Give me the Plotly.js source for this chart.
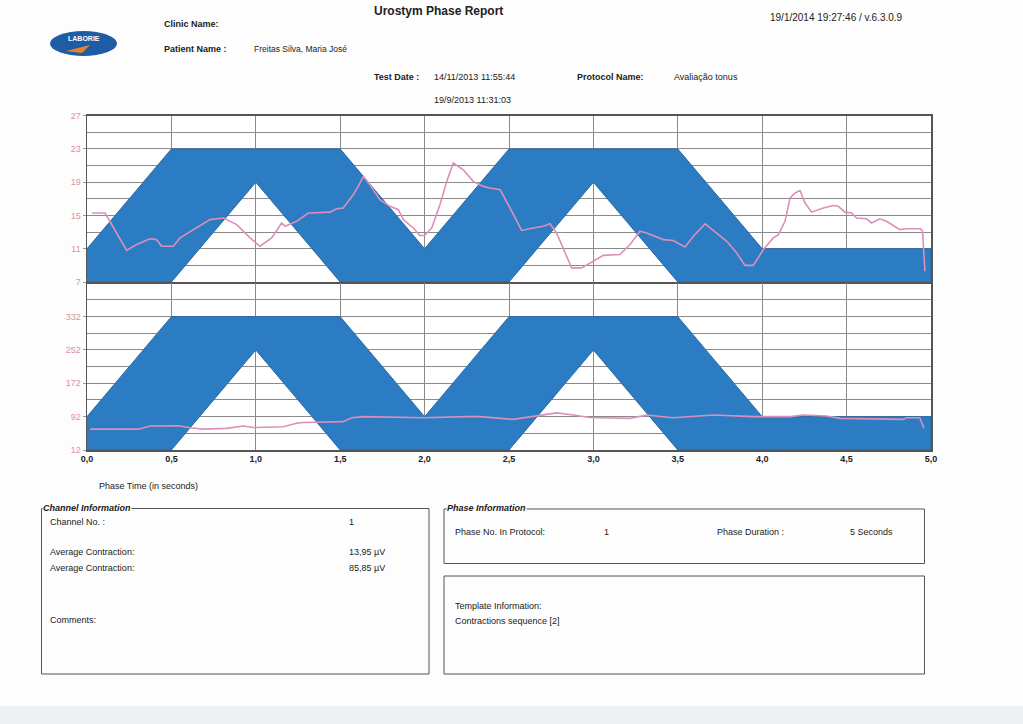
<!DOCTYPE html>
<html>
<head>
<meta charset="utf-8">
<script src="https://cdn.plot.ly/plotly-3.0.1.min.js"></script>
<style>html,body{margin:0;padding:0;background:#fdfdfd;}#chart{width:1023px;height:724px;}</style>
</head>
<body>
<div id="chart"></div>
<script>
// Template (target band) breakpoints
const templateT = [0, 0.5, 1.0, 1.5, 2.0, 2.5, 3.0, 3.5, 4.0, 5.0];
const ch1Upper = [11, 23, 23, 23, 11, 23, 23, 23, 11, 11];
const ch1Lower = [7, 7, 19, 7, 7, 7, 19, 7, 7, 7];
const ch2Upper = [92, 332, 332, 332, 92, 332, 332, 332, 92, 92];
const ch2Lower = [12, 12, 252, 12, 12, 12, 252, 12, 12, 12];

// Axis tick labels
const ch1Ticks = [7, 11, 15, 19, 23, 27];
const ch2Ticks = [12, 92, 172, 252, 332];
const xTicks = [0, 0.5, 1.0, 1.5, 2.0, 2.5, 3.0, 3.5, 4.0, 4.5, 5.0];

// Channel 1 signal (µV)
const ch1T = [0.03,0.107,0.235,0.294,0.373,0.412,0.442,0.511,0.551,0.63,0.729,0.808,0.887,0.966,1.025,1.094,1.153,1.173,1.242,1.311,1.44,1.479,1.518,1.577,1.607,1.637,1.676,1.735,1.795,1.844,1.874,1.933,1.972,2.0,2.042,2.091,2.131,2.17,2.229,2.288,2.347,2.388,2.447,2.506,2.575,2.644,2.703,2.743,2.782,2.871,2.93,2.999,3.058,3.157,3.217,3.276,3.315,3.414,3.473,3.543,3.592,3.662,3.711,3.79,3.849,3.898,3.947,4.007,4.066,4.096,4.135,4.165,4.195,4.224,4.254,4.293,4.362,4.421,4.451,4.49,4.53,4.559,4.618,4.648,4.697,4.737,4.776,4.816,4.855,4.938,4.95,4.964];
const ch1V = [15.3,15.3,10.8,11.5,12.2,12.1,11.3,11.3,12.3,13.3,14.5,14.7,13.9,12.3,11.3,12.3,14.1,13.7,14.3,15.3,15.4,15.8,15.9,17.5,18.5,19.7,18.7,16.9,16.1,15.7,14.5,13.5,12.6,12.6,13.5,16.3,19.1,21.3,20.5,19.1,18.5,18.3,18.1,15.9,13.2,13.5,13.7,14.0,12.9,8.7,8.7,9.5,10.2,10.3,11.5,13.1,12.9,12.1,12.0,11.2,12.5,14.0,13.2,11.9,10.5,9.0,9.0,10.9,12.3,12.7,14.3,17.1,17.7,18.0,16.5,15.4,15.9,16.2,16.1,15.4,15.3,14.7,14.6,14.1,14.6,14.3,13.8,13.3,13.4,13.4,13.1,8.3];

// Channel 2 signal (µV)
const ch2T = [0.018,0.304,0.373,0.54,0.61,0.689,0.827,0.926,0.985,1.163,1.242,1.281,1.518,1.568,1.637,1.992,2.249,2.328,2.525,2.644,2.782,2.881,2.98,3.217,3.315,3.473,3.711,3.947,4.165,4.244,4.382,4.461,4.836,4.855,4.934,4.958];
const ch2V = [62,62,69.5,70,65.5,62,64,69.5,66,67.8,76,78,80,89.5,92,89.5,92,92,85.5,93.5,101,96,90,88,96,89.5,96,92,92,96,93.5,88,85.5,89.5,89.5,64];

const W = 1023, H = 724;
const px = x => x / W;
const py = y => 1 - y / H;

const BLUE = '#2b7cc3';
const PINK = '#dc8fb8';

function band(upper, lower, xa, ya) {
  return {
    x: templateT.concat(templateT.slice().reverse()),
    y: upper.concat(lower.slice().reverse()),
    xaxis: xa, yaxis: ya, type: 'scatter', mode: 'lines',
    fill: 'toself', fillcolor: BLUE, line: {color: '#2a6aa3', width: 1},
    hoverinfo: 'skip', showlegend: false
  };
}

const traces = [
  band(ch1Upper, ch1Lower, 'x', 'y'),
  {x: ch1T, y: ch1V, xaxis: 'x', yaxis: 'y', type: 'scatter', mode: 'lines',
   line: {color: PINK, width: 1.6}, showlegend: false},
  band(ch2Upper, ch2Lower, 'x2', 'y2'),
  {x: ch2T, y: ch2V, xaxis: 'x2', yaxis: 'y2', type: 'scatter', mode: 'lines',
   line: {color: PINK, width: 1.6}, showlegend: false}
];

const FONT = 'Liberation Sans, Arial, sans-serif';
const xdom = [px(87), px(931)];

function xax(anchor, showLabels) {
  return {
    domain: xdom, anchor: anchor, range: [0, 5], tickvals: xTicks,
    tickformat: '.1f', showticklabels: showLabels,
    tickfont: {family: FONT, size: 9, color: '#222', weight: 'bold'},
    showgrid: true, gridcolor: '#8a8a8a', gridwidth: 1,
    showline: true, linecolor: '#555', linewidth: 1.5, mirror: true,
    zeroline: false, ticks: '', fixedrange: true
  };
}
function yax(anchor, dom, range, vals, minorStep) {
  return {
    domain: dom, anchor: anchor, range: range, tickmode: 'array', tickvals: vals,
    tickfont: {family: FONT, size: 9, color: '#e0909e'},
    ticks: 'outside', ticklen: 3, tickcolor: '#999',
    showgrid: true, gridcolor: '#8a8a8a', gridwidth: 1,
    minor: {tickmode: 'linear', tick0: range[0], dtick: minorStep, showgrid: true, gridcolor: '#8a8a8a', gridwidth: 1},
    showline: true, linecolor: '#555', linewidth: 1.5, mirror: true,
    zeroline: false, fixedrange: true
  };
}

function txt(t, x, y, opts) {
  return Object.assign({
    text: t, xref: 'paper', yref: 'paper', x: px(x), y: py(y),
    xanchor: 'left', yanchor: 'middle', showarrow: false,
    font: {family: FONT, size: 9, color: '#222'}
  }, opts || {});
}
const bold = (t, x, y, size) => txt('<b>' + t + '</b>', x, y, {font: {family: FONT, size: size || 9, color: '#222'}});

const annotations = [
  txt('<b>Urostym Phase Report</b>', 438, 11, {xanchor: 'center', font: {family: FONT, size: 12, color: '#222'}}),
  txt('19/1/2014 19:27:46 / v.6.3.0.9', 768, 18, {font: {family: FONT, size: 10, color: '#222'}}),
  bold('Clinic Name:', 162, 24),
  bold('Patient Name :', 162, 49),
  txt('Freitas Silva, Maria José', 252, 49, {font: {family: FONT, size: 8.5, color: '#222'}}),
  bold('Test Date :', 372, 77),
  txt('14/11/2013 11:55:44', 432, 77),
  bold('Protocol Name:', 575, 77),
  txt('Avaliação tonus', 672, 77),
  txt('19/9/2013 11:31:03', 432, 100),
  txt('<b>LABORIE</b>', 84, 38, {xanchor: 'center', font: {family: FONT, size: 7, color: '#ffffff'}}),
  txt('Phase Time (in seconds)', 148, 486, {xanchor: 'center'}),
  txt('<b><i>Channel Information</i></b>', 42, 508, {bgcolor: '#fdfdfd', borderpad: 0}),
  txt('Channel No. :', 48, 522),
  txt('1', 347, 522),
  txt('Average Contraction:', 48, 552),
  txt('13,95 µV', 347, 552),
  txt('Average Contraction:', 48, 568),
  txt('85,85 µV', 347, 568),
  txt('Comments:', 48, 620),
  txt('<b><i>Phase Information</i></b>', 446, 508, {bgcolor: '#fdfdfd', borderpad: 0}),
  txt('Phase No. In Protocol:', 453, 532),
  txt('1', 602, 532),
  txt('Phase Duration :', 715, 532),
  txt('5 Seconds', 848, 532),
  txt('Template Information:', 453, 606),
  txt('Contractions sequence [2]', 453, 621)
];

function rect(x0, y0, x1, y1, line, fill) {
  return {type: 'rect', xref: 'paper', yref: 'paper', x0: px(x0), x1: px(x1), y0: py(y0), y1: py(y1),
          line: line, fillcolor: fill || 'rgba(0,0,0,0)', layer: 'below'};
}
const boxLine = {color: '#555', width: 1};
const shapes = [
  rect(0, 706, 1023, 724, {width: 0}, '#eef1f4'),
  {type: 'circle', xref: 'paper', yref: 'paper', x0: px(50), x1: px(117), y0: py(56), y1: py(31),
   fillcolor: '#1f5ca6', line: {width: 0}, layer: 'below'},
  {type: 'path', xref: 'paper', yref: 'paper',
   path: `M ${px(66)} ${py(51)} L ${px(90)} ${py(45)} L ${px(82)} ${py(53)} Z`,
   fillcolor: '#e8822e', line: {width: 0}, layer: 'below'},
  rect(41.5, 508.5, 429, 674, boxLine),
  rect(444, 509, 924.5, 563.5, boxLine),
  rect(444, 576, 924.5, 674, boxLine)
];

const layout = {
  width: W, height: H,
  margin: {l: 0, r: 0, t: 0, b: 0},
  paper_bgcolor: '#fdfdfd', plot_bgcolor: '#ffffff',
  separators: ',.',
  showlegend: false,
  font: {family: FONT, size: 9, color: '#222'},
  xaxis: xax('y', false),
  yaxis: yax('x', [py(282), py(115.7)], [7, 27], ch1Ticks, 2),
  xaxis2: xax('y2', true),
  yaxis2: yax('x2', [py(450), py(283.3)], [12, 412], ch2Ticks, 40),
  annotations: annotations,
  shapes: shapes
};

Plotly.newPlot('chart', traces, layout, {displayModeBar: false, staticPlot: true});
</script>
</body>
</html>
